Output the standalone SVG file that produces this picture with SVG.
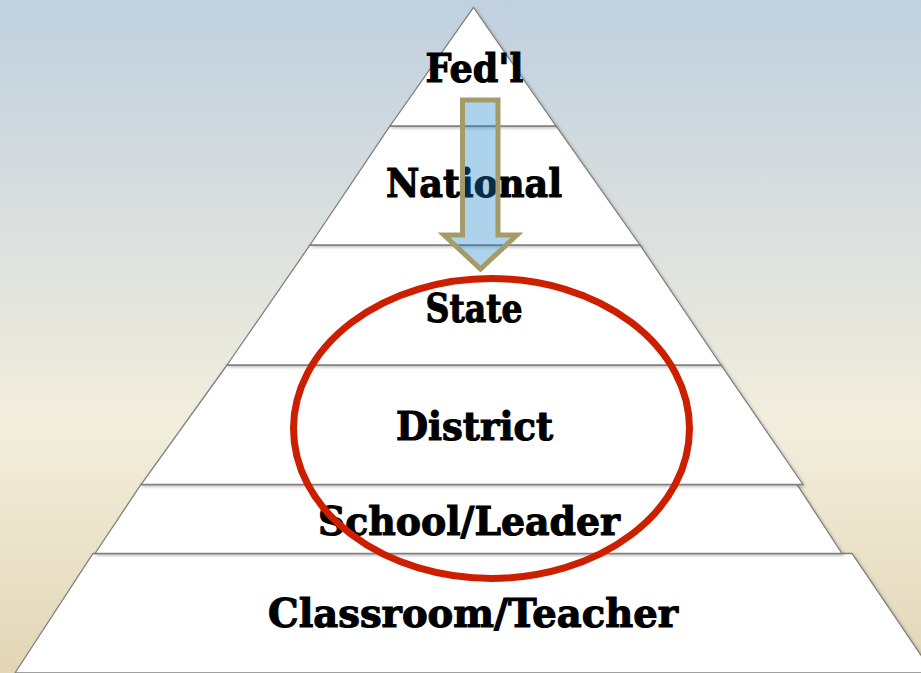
<svg xmlns="http://www.w3.org/2000/svg" width="921" height="673" viewBox="0 0 921 673">
  <defs>
    <linearGradient id="bg" x1="0" y1="0" x2="0" y2="1">
      <stop offset="0" stop-color="#bfd0df"/>
      <stop offset="0.35" stop-color="#dce0de"/>
      <stop offset="0.63" stop-color="#f2eedd"/>
      <stop offset="1" stop-color="#e3d6b6"/>
    </linearGradient>
    <filter id="sh" x="-5%" y="-5%" width="110%" height="110%">
      <feDropShadow dx="1.5" dy="1.5" stdDeviation="1.5" flood-color="#000" flood-opacity="0.25"/>
    </filter>
  </defs>
  <style>
    .layer { fill: #ffffff; stroke: #808080; stroke-width: 1.3; filter: url(#sh); }
    .lbl { font-family: "DejaVu Serif", "Liberation Serif", serif; font-weight: bold; font-size: 39px; fill: #000; stroke: #000; stroke-width: 1.1; text-anchor: middle; }
  </style>
  <rect x="0" y="0" width="921" height="673" fill="url(#bg)"/>
  <g id="classroom">
    <polygon class="layer" points="93,553.5 852,553.5 933,673 15,673"/>
    <text class="lbl" x="473" y="627" font-size="37" textLength="410" lengthAdjust="spacingAndGlyphs">Classroom/Teacher</text>
  </g>
  <g id="school">
    <polygon class="layer" points="141,484.5 797,484.5 842,553.5 95,553.5"/>
    <text class="lbl" x="469" y="535" textLength="302" lengthAdjust="spacingAndGlyphs">School/Leader</text>
  </g>
  <g id="district">
    <polygon class="layer" points="227,365 721,365 803,484.5 141,484.5"/>
    <text class="lbl" x="474.5" y="440" textLength="157" lengthAdjust="spacingAndGlyphs">District</text>
  </g>
  <g id="state">
    <polygon class="layer" points="310,245 640,245 721,365 227,365"/>
    <text class="lbl" x="474" y="321.5" textLength="97" lengthAdjust="spacingAndGlyphs">State</text>
  </g>
  <g id="national">
    <polygon class="layer" points="390,126 556,126 640,245 310,245"/>
    <text class="lbl" x="474" y="197" textLength="176" lengthAdjust="spacingAndGlyphs">National</text>
  </g>
  <g id="fedl">
    <polygon class="layer" points="473.5,7.5 556,126 390,126"/>
    <text class="lbl" x="474.5" y="82" font-size="40" textLength="98" lengthAdjust="spacingAndGlyphs">Fed'l</text>
  </g>
  <g id="connectors">
    <path d="M462.5,100 L498,100 L498,235 L517,235 L480.5,269 L444,235 L462.5,235 Z" fill="rgb(20,125,200)" fill-opacity="0.35" stroke="#a59b69" stroke-width="5" stroke-linejoin="miter"/>
    <ellipse cx="491.5" cy="428.5" rx="198" ry="150" fill="none" stroke="#cc1f00" stroke-width="7"/>
  </g>
</svg>
